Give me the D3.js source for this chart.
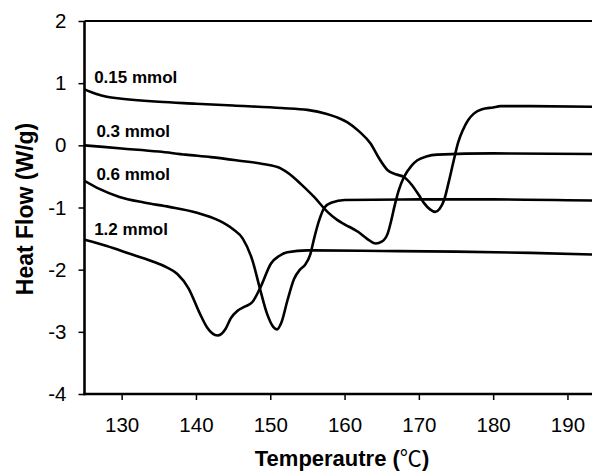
<!DOCTYPE html>
<html>
<head>
<meta charset="utf-8">
<script src="https://cdn.jsdelivr.net/npm/d3@7"></script>
<style>
  html, body { margin: 0; padding: 0; background: #fff; }
  svg { display: block; }
</style>
</head>
<body>
<script>
// ---- Data ----
const seriesNames = ["0.15 mmol", "0.3 mmol", "0.6 mmol", "1.2 mmol"];

const temp015 = [125, 126.5, 128, 130, 135, 140, 145, 151.5, 155, 157.5, 159, 160.4, 162, 163.5, 164.6, 165.8, 167, 168, 169, 170, 170.7, 171.5, 172.2, 172.8, 173.4, 174, 174.7, 175.3, 175.9, 176.6, 177.4, 178.5, 180, 181, 185, 194.5];
const flow015 = [0.90, 0.83, 0.78, 0.75, 0.70, 0.67, 0.64, 0.60, 0.57, 0.51, 0.45, 0.37, 0.22, 0.03, -0.20, -0.40, -0.47, -0.51, -0.63, -0.80, -0.93, -1.03, -1.07, -1.02, -0.88, -0.60, -0.24, 0.05, 0.24, 0.40, 0.51, 0.58, 0.61, 0.63, 0.63, 0.62];

const temp03 = [125, 130, 135, 138.6, 142, 145.4, 149, 151.4, 153, 154.1, 155.9, 157.7, 159, 160, 161.8, 163, 164.2, 165, 165.8, 166.3, 166.7, 167.3, 168, 169, 169.8, 171, 172.5, 180, 194.5];
const flow03 = [0.0, -0.05, -0.10, -0.15, -0.19, -0.24, -0.30, -0.37, -0.50, -0.62, -0.83, -1.07, -1.20, -1.27, -1.39, -1.50, -1.58, -1.55, -1.42, -1.20, -0.99, -0.72, -0.51, -0.33, -0.24, -0.18, -0.15, -0.13, -0.14];

const temp06 = [125, 127, 129.7, 133, 136.4, 140, 143.1, 145, 146.3, 147.6, 148.6, 149.6, 150.4, 150.9, 151.5, 152.3, 153.2, 154, 154.7, 155.4, 155.9, 156.6, 157.3, 158.3, 160, 170, 180, 194.5];
const flow06 = [-0.57, -0.70, -0.83, -0.92, -0.99, -1.08, -1.21, -1.35, -1.50, -1.85, -2.30, -2.72, -2.92, -2.96, -2.85, -2.50, -2.15, -2.00, -1.92, -1.75, -1.50, -1.20, -1.00, -0.92, -0.88, -0.87, -0.87, -0.89];

const temp12 = [125, 128, 131, 134, 136, 137.5, 139, 140.5, 141.5, 142.9, 144, 144.7, 145.6, 146.5, 147.6, 148.7, 150.1, 151.2, 152.3, 155, 165, 175, 185, 194.5];
const flow12 = [-1.52, -1.62, -1.74, -1.86, -1.96, -2.07, -2.30, -2.70, -2.93, -3.06, -2.95, -2.78, -2.66, -2.60, -2.52, -2.28, -1.90, -1.78, -1.72, -1.69, -1.70, -1.71, -1.73, -1.76];

const xTicks = [130, 140, 150, 160, 170, 180, 190];
const yTicks = [-4, -3, -2, -1, 0, 1, 2];
const xTitleMain = "Temperautre (";
const xTitleUnit = "℃";
const xTitleEnd = ")";
const yTitle = "Heat Flow (W/g)";

// label anchor points (data coordinates)
const labelX = [126.3, 126.6, 126.6, 126.3];
const labelY = [1.0, 0.13, -0.56, -1.45];

// ---- Build ----
const W = 592, H = 473;
const svg = d3.select("body").append("svg").attr("width", W).attr("height", H);

const x = d3.scaleLinear().domain([125, 194.5]).range([84.5, 600.9]);
const y = d3.scaleLinear().domain([-4, 2]).range([394, 21]);

const series = [
  { name: seriesNames[0], t: temp015, v: flow015 },
  { name: seriesNames[1], t: temp03, v: flow03 },
  { name: seriesNames[2], t: temp06, v: flow06 },
  { name: seriesNames[3], t: temp12, v: flow12 }
];

const line = d3.line()
  .x(d => x(d[0]))
  .y(d => y(d[1]))
  .curve(d3.curveMonotoneX);

const plot = svg.append("g");
plot.append("defs").append("clipPath").attr("id", "clip")
  .append("rect").attr("x", x(125)).attr("y", y(2)).attr("width", x(194.5) - x(125)).attr("height", y(-4) - y(2));

series.forEach(s => {
  plot.append("path")
    .attr("clip-path", "url(#clip)")
    .datum(s.t.map((t, i) => [t, s.v[i]]))
    .attr("fill", "none")
    .attr("stroke", "#000")
    .attr("stroke-width", 2.6)
    .attr("stroke-linejoin", "round")
    .attr("d", line);
});

// top border
svg.append("line")
  .attr("x1", x(125)).attr("x2", W + 10)
  .attr("y1", y(2)).attr("y2", y(2))
  .attr("stroke", "#000").attr("stroke-width", 2.2);

// axes
const fontFam = "Liberation Sans, Arial, Helvetica, sans-serif";
const xAxis = svg.append("g")
  .attr("transform", `translate(0,${y(-4)})`)
  .call(d3.axisBottom(x).tickValues(xTicks).tickSize(6).tickPadding(17).tickSizeOuter(0));
const yAxis = svg.append("g")
  .attr("transform", `translate(${x(125)},0)`)
  .call(d3.axisLeft(y).tickValues(yTicks).tickSize(6).tickPadding(12).tickSizeOuter(0)
        .tickFormat(d => d));

[xAxis, yAxis].forEach(g => {
  g.select(".domain").attr("stroke", "#000").attr("stroke-width", 2.6);
  g.selectAll(".tick line").attr("stroke", "#000").attr("stroke-width", 1.5);
  g.selectAll(".tick text")
    .attr("fill", "#000")
    .attr("font-family", fontFam)
    .attr("font-size", 20.5);
});
xAxis.select(".domain").attr("d", `M${x(125) - 1},0H${W + 10}`);
yAxis.select(".domain").attr("d", `M0,${y(2)}V${y(-4) + 1.3}`);

// axis titles
const xt = svg.append("text")
  .attr("x", 342).attr("y", 466)
  .attr("text-anchor", "middle")
  .attr("font-family", fontFam)
  .attr("font-weight", "bold")
  .attr("font-size", 22)
  .attr("fill", "#000");
xt.append("tspan").text(xTitleMain);
xt.append("tspan")
  .attr("font-family", "Noto Sans CJK SC, sans-serif")
  .attr("font-weight", "normal")
  .text(xTitleUnit);
xt.append("tspan").text(xTitleEnd);

svg.append("text")
  .attr("transform", `translate(33,209) rotate(-90)`)
  .attr("text-anchor", "middle")
  .attr("font-family", fontFam)
  .attr("font-weight", "bold")
  .attr("font-size", 23)
  .attr("fill", "#000")
  .text(yTitle);

// series labels
series.forEach((s, i) => {
  svg.append("text")
    .attr("x", x(labelX[i]))
    .attr("y", y(labelY[i]))
    .attr("font-family", fontFam)
    .attr("font-weight", "bold")
    .attr("font-size", 17)
    .attr("fill", "#000")
    .text(s.name);
});
</script>
</body>
</html>
